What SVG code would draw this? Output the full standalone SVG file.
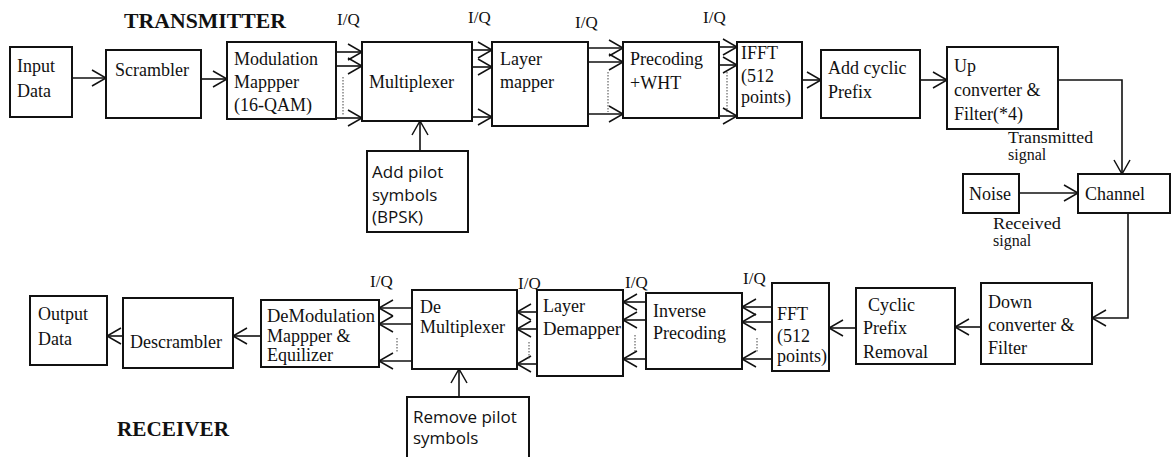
<svg xmlns="http://www.w3.org/2000/svg" width="1171" height="457" viewBox="0 0 1171 457">
<defs>
<marker id="ah" markerUnits="userSpaceOnUse" markerWidth="18" markerHeight="20" refX="15" refY="9" orient="auto">
<path d="M1,1 L15,9 L1,17" fill="none" stroke="#111" stroke-width="1.5"/>
</marker>
<style>
.box{fill:#fff;stroke:#111;stroke-width:2}
.t{font-family:"Liberation Serif","Times New Roman",serif;font-size:18px;fill:#111}
.s{font-family:"Open Sans","Noto Sans",sans-serif;font-size:17px;fill:#111}
.sm{font-family:"Liberation Serif","Times New Roman",serif;font-size:16px;fill:#111}
.iq{font-family:"Liberation Serif","Times New Roman",serif;font-size:17px;fill:#111}
.title{font-family:"Liberation Serif","Times New Roman",serif;font-size:20px;font-weight:bold;fill:#111}
.c{fill:none;stroke:#111;stroke-width:1.6;marker-end:url(#ah)}
.d{fill:none;stroke:#444;stroke-width:1;stroke-dasharray:1.5,1.5}
</style>
</defs>
<rect width="1171" height="457" fill="#fff"/>

<text class="title" x="124" y="28" textLength="162" lengthAdjust="spacingAndGlyphs">TRANSMITTER</text>
<text class="title" x="117" y="436" textLength="112" lengthAdjust="spacingAndGlyphs">RECEIVER</text>

<g id="connectors">
<path class="c" d="M72,78 H106"/>
<path class="c" d="M201,79 H227"/>
<path class="c" d="M336,52 H362"/>
<path class="c" d="M336,66 H362"/>
<path class="c" d="M336,118 H362"/>
<path class="d" d="M343,77 V115"/>
<path class="c" d="M472,50 H492"/>
<path class="c" d="M472,67 H492"/>
<path class="c" d="M472,117 H492"/>
<path class="c" d="M588,48 H623"/>
<path class="c" d="M588,62 H623"/>
<path class="c" d="M588,114 H623"/>
<path class="d" d="M608,72 V112"/>
<path class="c" d="M719,47 H737"/>
<path class="c" d="M719,65 H737"/>
<path class="c" d="M719,116 H737"/>
<path class="d" d="M727,72 V112"/>
<path class="c" d="M420,151 V121"/>
<path class="c" d="M802,80 H821"/>
<path class="c" d="M920,80 H947"/>
<path class="c" d="M1058,80 H1122 V174"/>
<path class="c" d="M1019,193 H1078"/>
<path class="c" d="M1128,213 V318 H1092"/>
<path class="c" d="M981,327 H955"/>
<path class="c" d="M856,328 H829"/>
<path class="c" d="M772,307 H742"/>
<path class="c" d="M772,322 H742"/>
<path class="c" d="M772,359 H742"/>
<path class="d" d="M757,338 V353"/>
<path class="c" d="M646,302 H623"/>
<path class="c" d="M646,320 H623"/>
<path class="c" d="M646,359 H623"/>
<path class="d" d="M635,335 V352"/>
<path class="c" d="M537,312 H517"/>
<path class="c" d="M537,329 H517"/>
<path class="c" d="M537,364 H517"/>
<path class="d" d="M529,342 V360"/>
<path class="c" d="M412,308 H379"/>
<path class="c" d="M412,324 H379"/>
<path class="c" d="M412,361 H379"/>
<path class="d" d="M397,338 V353"/>
<path class="c" d="M459,397 V369"/>
<path class="c" d="M261,336 H233"/>
<path class="c" d="M123,336 H107"/>
</g>

<g id="iq-labels">
<text class="iq" x="337" y="25">I/Q</text>
<text class="iq" x="468" y="23">I/Q</text>
<text class="iq" x="575" y="28">I/Q</text>
<text class="iq" x="703" y="23">I/Q</text>
<text class="iq" x="370" y="287">I/Q</text>
<text class="iq" x="518" y="289">I/Q</text>
<text class="iq" x="625" y="288">I/Q</text>
<text class="iq" x="743" y="284">I/Q</text>
</g>

<g id="input-data"><rect class="box" x="10" y="47" width="62" height="70"/>
<text class="t" x="17" y="72">Input</text><text class="t" x="17" y="97">Data</text></g>

<g id="scrambler"><rect class="box" x="106" y="50" width="95" height="68"/>
<text class="t" x="115" y="76">Scrambler</text></g>

<g id="modulation-mapper"><rect class="box" x="227" y="42" width="109" height="77"/>
<text class="t" x="234" y="65">Modulation</text><text class="t" x="234" y="88">Mappper</text><text class="t" x="234" y="111">(16-QAM)</text></g>

<g id="multiplexer"><rect class="box" x="362" y="42" width="110" height="79"/>
<text class="t" x="369" y="88">Multiplexer</text></g>

<g id="add-pilot"><rect class="box" x="367" y="151" width="101" height="81"/>
<text class="s" x="372" y="178">Add pilot</text><text class="s" x="372" y="201">symbols</text><text class="s" x="372" y="223">(BPSK)</text></g>

<g id="layer-mapper"><rect class="box" x="492" y="42" width="96" height="84"/>
<text class="t" x="500" y="65">Layer</text><text class="t" x="500" y="88">mapper</text></g>

<g id="precoding"><rect class="box" x="623" y="42" width="96" height="76"/>
<text class="t" x="630" y="65">Precoding</text><text class="t" x="630" y="89">+WHT</text></g>

<g id="ifft"><rect class="box" x="737" y="42" width="65" height="76"/>
<text class="t" x="741" y="59">IFFT</text><text class="t" x="741" y="82">(512</text><text class="t" x="741" y="103">points)</text></g>

<g id="add-cp"><rect class="box" x="821" y="50" width="99" height="68"/>
<text class="t" x="828" y="74">Add cyclic</text><text class="t" x="828" y="98">Prefix</text></g>

<g id="up-converter"><rect class="box" x="947" y="47" width="111" height="82"/>
<text class="t" x="954" y="72">Up</text><text class="t" x="954" y="96">converter &amp;</text><text class="t" x="954" y="120">Filter(*4)</text></g>

<g id="transmitted-label"><text class="sm" x="1008" y="143" textLength="85" lengthAdjust="spacingAndGlyphs">Transmitted</text><text class="sm" x="1008" y="160">signal</text></g>

<g id="noise"><rect class="box" x="963" y="174" width="56" height="39"/>
<text class="t" x="969" y="200">Noise</text></g>

<g id="channel"><rect class="box" x="1078" y="174" width="92" height="39"/>
<text class="t" x="1085" y="200">Channel</text></g>

<g id="received-label"><text class="sm" x="993" y="229" textLength="68" lengthAdjust="spacingAndGlyphs">Received</text><text class="sm" x="993" y="246">signal</text></g>

<g id="down-converter"><rect class="box" x="981" y="283" width="111" height="81"/>
<text class="t" x="988" y="308">Down</text><text class="t" x="988" y="331">converter &amp;</text><text class="t" x="988" y="354">Filter</text></g>

<g id="cp-removal"><rect class="box" x="856" y="288" width="99" height="76"/>
<text class="t" x="868" y="311">Cyclic</text><text class="t" x="863" y="334">Prefix</text><text class="t" x="863" y="358">Removal</text></g>

<g id="fft"><rect class="box" x="772" y="283" width="57" height="88"/>
<text class="t" x="777" y="320">FFT</text><text class="t" x="777" y="342">(512</text><text class="t" x="777" y="362">points)</text></g>

<g id="inverse-precoding"><rect class="box" x="646" y="293" width="96" height="76"/>
<text class="t" x="653" y="317">Inverse</text><text class="t" x="653" y="339">Precoding</text></g>

<g id="layer-demapper"><rect class="box" x="537" y="290" width="86" height="86"/>
<text class="t" x="543" y="312">Layer</text><text class="t" x="543" y="335" textLength="78" lengthAdjust="spacingAndGlyphs">Demapper</text></g>

<g id="demultiplexer"><rect class="box" x="412" y="290" width="105" height="79"/>
<text class="t" x="420" y="313">De</text><text class="t" x="420" y="333">Multiplexer</text></g>

<g id="remove-pilot"><rect class="box" x="407" y="397" width="122" height="70"/>
<text class="s" x="413" y="423">Remove pilot</text><text class="s" x="413" y="444">symbols</text></g>

<g id="demodulation"><rect class="box" x="261" y="300" width="118" height="67"/>
<text class="t" x="267" y="322" textLength="108" lengthAdjust="spacingAndGlyphs">DeModulation</text><text class="t" x="267" y="342">Mappper &amp;</text><text class="t" x="267" y="361">Equilizer</text></g>

<g id="descrambler"><rect class="box" x="123" y="298" width="110" height="70"/>
<text class="t" x="130" y="348">Descrambler</text></g>

<g id="output-data"><rect class="box" x="30" y="296" width="77" height="69"/>
<text class="t" x="38" y="320">Output</text><text class="t" x="38" y="345">Data</text></g>
</svg>
